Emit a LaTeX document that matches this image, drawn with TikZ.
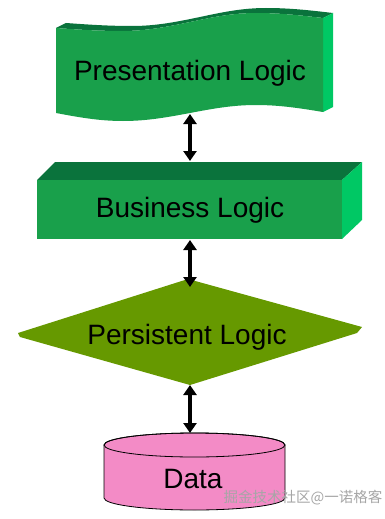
\documentclass[tikz,border=0pt]{standalone}
\usepackage{fontspec}
\setmainfont{Liberation Sans}
\newfontfamily\cjk{Noto Sans CJK SC}
\usepackage{tikz}
\usetikzlibrary{arrows.meta,calc}
\definecolor{frontc}{HTML}{19A04B}
\definecolor{topc}{HTML}{0A733C}
\definecolor{sidec}{HTML}{00C864}
\definecolor{olivec}{HTML}{669900}
\definecolor{pinkc}{HTML}{F38BC6}
\tikzset{
  lbl/.style={font=\fontsize{28}{32}\selectfont, inner sep=0pt, text=black},
  dblarr/.style={{Triangle[length=10pt, width=13pt]}-{Triangle[length=10pt, width=13pt]}, line width=3.5pt},
  wmark/.style={font=\cjk\fontsize{14.5}{16}\selectfont, text=gray!70, inner sep=0pt},
}

\begin{document}
\begin{tikzpicture}[x=1pt, y=1pt]
  \useasboundingbox (0,0) rectangle (385,-519);

  % presentation layer: wavy slab
  \fill[topc] (56,-28) sin (122,-31) cos (190,-22) sin (256,-13) cos (323,-18)
    -- (333,-13) sin (266,-8) cos (200,-17) sin (132,-26) cos (66,-23) -- cycle;
  \fill[sidec] (323,-18) -- (333,-13) -- (333,-107) -- (323,-112) -- cycle;
  \fill[frontc] (56,-28) sin (122,-31) cos (190,-22) sin (256,-13) cos (323,-18)
    -- (323,-112) sin (256,-105) cos (190,-113) sin (123,-121) cos (56,-113) -- cycle;
  \node[lbl] (presLbl) at (190,-73) {Presentation Logic};

  % business layer: box
  \fill[topc] (37,-180) -- (55,-162) -- (362,-162) -- (342,-180) -- cycle;
  \fill[sidec] (342,-180) -- (362,-162) -- (362,-220) -- (342,-239) -- cycle;
  \fill[frontc] (37,-180) rectangle (342,-239);
  \node[lbl] (busLbl) at (190,-210) {Business Logic};

  % persistent layer: diamond
  \fill[olivec] (188,-279) -- (362,-327) -- (357,-333) -- (190,-385) -- (20,-337) -- (18,-333) -- cycle;
  \node[lbl] (persLbl) at (187,-337) {Persistent Logic};

  % data: cylinder
  \filldraw[fill=pinkc, draw=black, line width=0.8pt] (104,-445) -- (104,-498)
    arc[start angle=180, end angle=360, x radius=90.5, y radius=12] -- (285,-445)
    arc[start angle=0, end angle=180, x radius=90.5, y radius=12] -- cycle;
  \draw[line width=0.8pt] (194.5,-445) ellipse[x radius=90.5, y radius=12];
  \node[lbl] (dataLbl) at (193,-479) {Data};

  % connectors
  \coordinate (presBot) at (190,-114);
  \coordinate (busTop) at (190,-161);
  \coordinate (busBot) at (190,-240);
  \coordinate (persTop) at (190,-287);
  \coordinate (persBot) at (190,-385);
  \coordinate (dataTop) at (190,-433);
  \draw[dblarr] (presBot) -- (busTop);
  \draw[dblarr] (busBot) -- (persTop);
  \draw[dblarr] (persBot) -- (dataTop);

  \node[wmark] (wm) at (303,-498) {掘金技术社区@一诺格客};
\end{tikzpicture}
\end{document}
